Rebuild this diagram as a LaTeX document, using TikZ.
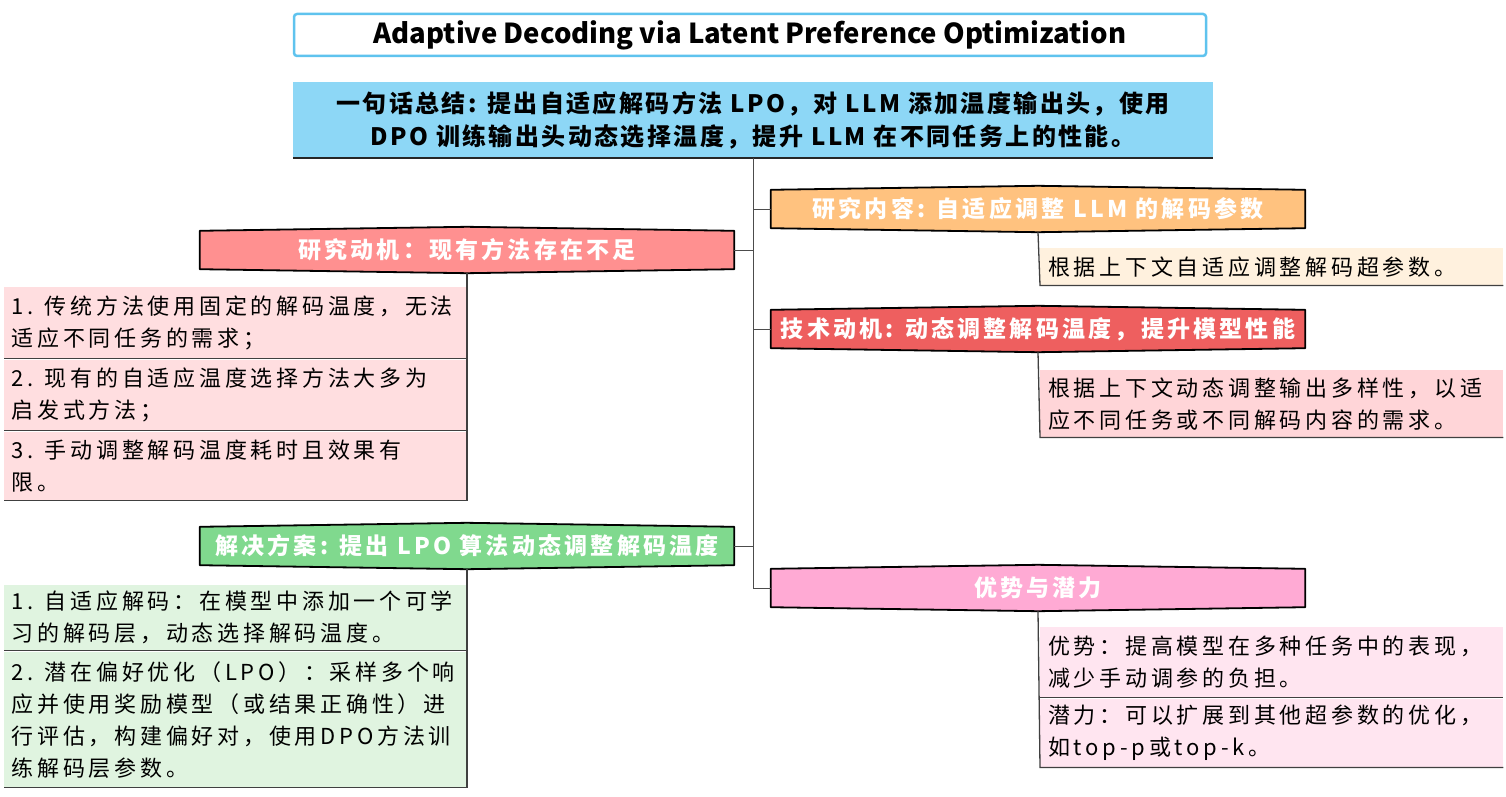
\documentclass[tikz,border=0pt]{standalone}
\usepackage{fontspec}
\setmainfont{Noto Sans CJK SC}
\newfontfamily\bodyfont[LetterSpace=17]{Noto Sans CJK SC}
\newfontfamily\hdrfont[LetterSpace=14]{Noto Sans CJK SC}
\newfontfamily\sumfont[LetterSpace=10]{Noto Sans CJK SC}
\usetikzlibrary{backgrounds}
\definecolor{titleblue}{HTML}{5FC3EE}
\definecolor{sumblue}{HTML}{8DD7F6}
\definecolor{horange}{HTML}{FFC27F}
\definecolor{borange}{HTML}{FFF1DE}
\definecolor{hred}{HTML}{EE5F5F}
\definecolor{bred}{HTML}{FFD5D8}
\definecolor{hpink}{HTML}{FFAAD4}
\definecolor{bpink}{HTML}{FFE5F0}
\definecolor{hsalmon}{HTML}{FF9090}
\definecolor{bsalmon}{HTML}{FFDEE0}
\definecolor{hgreen}{HTML}{80D98E}
\definecolor{bgreen}{HTML}{E0F4E0}
\newcommand\hexfill[2]{\path[fill=#2, draw=black, line width=1.8pt, line join=round] (#1.south west) -- (#1.north west) -- ([yshift=4pt]#1.north) -- (#1.north east) -- (#1.south east) -- ([yshift=-4pt]#1.south) -- cycle;}
\begin{document}
\begin{tikzpicture}[x=1pt,y=-1pt,
  hdr/.style={minimum width=534pt, minimum height=38pt, inner sep=0pt, text=white, font=\hdrfont\bfseries\fontsize{23}{28}\selectfont},
  cbox/.style={minimum width=463pt, text width=447pt, inner xsep=8pt, inner ysep=4pt, align=left, font=\bodyfont\fontsize{22}{32}\selectfont},
  conn/.style={draw=black!70, line width=1pt},
  bline/.style={draw=black!75, line width=1.3pt}]
\useasboundingbox (0,0) rectangle (1506,797);
% title
\node[draw=titleblue, line width=2.5pt, rounded corners=3pt, fill=white, minimum width=912pt, minimum height=42pt, inner sep=0pt, font=\bfseries\fontsize{27.5}{32}\selectfont] (title) at (750,35) {Adaptive Decoding via Latent Preference Optimization};
% summary
\node[fill=sumblue, minimum width=920pt, minimum height=76pt, inner sep=0pt, align=center, font=\sumfont\bfseries\fontsize{24}{33}\selectfont] (sum) at (753,120) {一句话总结: 提出自适应解码方法 LPO，对 LLM 添加温度输出头，使用\\DPO 训练输出头动态选择温度，提升 LLM 在不同任务上的性能。};
\draw[draw=black!85, line width=2pt] (sum.south west) -- (sum.south east);
% headers
\node[hdr] (h1) at (1038,209) {研究内容: 自适应调整 LLM 的解码参数};
\node[hdr] (h2) at (1038,329) {技术动机: 动态调整解码温度，提升模型性能};
\node[hdr] (h3) at (1038,588) {优势与潜力};
\node[hdr] (h4) at (467,250) {研究动机：现有方法存在不足};
\node[hdr] (h5) at (467,546) {解决方案: 提出 LPO 算法动态调整解码温度};
\begin{scope}[on background layer]
\hexfill{h1}{horange}
\hexfill{h2}{hred}
\hexfill{h3}{hpink}
\hexfill{h4}{hsalmon}
\hexfill{h5}{hgreen}
\end{scope}
% trunk
\draw[conn] (sum.south) -- (sum.south |- h3.west) -- (h3.west);
\draw[conn] (sum.south |- h1.west) -- (h1.west);
\draw[conn] (sum.south |- h2.west) -- (h2.west);
\draw[conn] (sum.south |- h4.east) -- (h4.east);
\draw[conn] (sum.south |- h5.east) -- (h5.east);
% right boxes
\node[cbox, anchor=north west, fill=borange, minimum height=37pt] (r1) at (1040,248) {根据上下文自适应调整解码超参数。};
\node[cbox, anchor=north west, fill=bred, minimum height=67pt] (r2) at (1040,370) {根据上下文动态调整输出多样性，以适\\应不同任务或不同解码内容的需求。};
\node[cbox, anchor=north west, fill=bpink, minimum height=70pt] (r3) at (1040,627) {优势：提高模型在多种任务中的表现，\\减少手动调参的负担。};
\node[cbox, anchor=north west, fill=bpink, minimum height=68pt] (r4) at (1040,699) {潜力：可以扩展到其他超参数的优化，\\如top-p或top-k。};
% left boxes
\node[cbox, anchor=north east, fill=bsalmon, minimum height=71pt] (l1) at (467,287) {1. 传统方法使用固定的解码温度，无法\\适应不同任务的需求；};
\node[cbox, anchor=north east, fill=bsalmon, minimum height=70pt] (l2) at (467,360) {2. 现有的自适应温度选择方法大多为\\启发式方法；};
\node[cbox, anchor=north east, fill=bsalmon, minimum height=68pt] (l3) at (467,432) {3. 手动调整解码温度耗时且效果有\\限。};
\node[cbox, anchor=north east, fill=bgreen, minimum height=65pt] (l4) at (467,585) {1. 自适应解码：在模型中添加一个可学\\习的解码层，动态选择解码温度。};
\node[cbox, anchor=north east, fill=bgreen, minimum height=135pt] (l5) at (467,652) {2. 潜在偏好优化（LPO）：采样多个响\\应并使用奖励模型（或结果正确性）进\\行评估，构建偏好对，使用DPO方法训\\练解码层参数。};
% box borders
\draw[bline] ([yshift=-4pt]h1.south) -- (r1.south west) -- (r1.south east);
\draw[bline] ([yshift=-4pt]h2.south) -- (r2.south west) -- (r2.south east);
\draw[bline] ([yshift=-4pt]h3.south) -- (r4.south west) -- (r4.south east);
\draw[bline] (r3.south west) -- (r3.south east);
\draw[bline] ([yshift=-4pt]h4.south) -- (l3.south east) -- (l3.south west);
\draw[bline] (l1.south east) -- (l1.south west);
\draw[bline] (l2.south east) -- (l2.south west);
\draw[bline] ([yshift=-4pt]h5.south) -- (l5.south east) -- (l5.south west);
\draw[bline] (l4.south east) -- (l4.south west);
\end{tikzpicture}
\end{document}
